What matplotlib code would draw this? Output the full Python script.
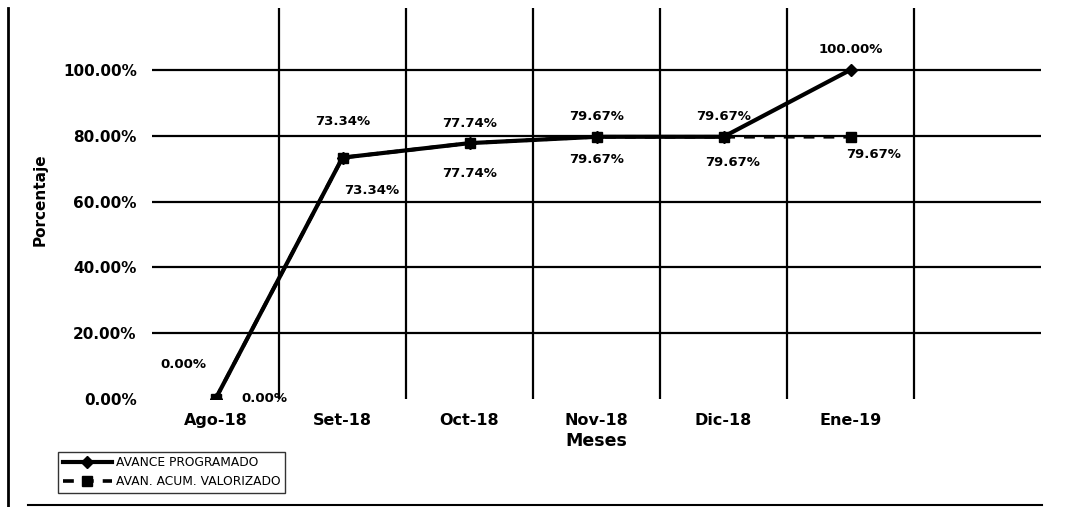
import matplotlib
matplotlib.use("Agg")
import matplotlib.pyplot as plt
from matplotlib.lines import Line2D

# ---- data ----
meses = ["Ago-18", "Set-18", "Oct-18", "Nov-18", "Dic-18", "Ene-19"]
avance_programado = [0.00, 73.34, 77.74, 79.67, 79.67, 100.00]
avance_valorizado = [0.00, 73.34, 77.74, 79.67, 79.67, 79.67]
y_ticks = [0, 20, 40, 60, 80, 100]
serie_nombres = ["AVANCE PROGRAMADO", "AVAN. ACUM. VALORIZADO"]

# label offsets (pixels) – layout only
off_prog = [(-32, 34), (0, 36), (0, 20), (0, 20), (0, 20), (0, 20)]
off_valor = [(49, 0), (29, -33), (0, -30), (0, -23), (9, -26), (23, -18)]

W, H = 1080, 507
fig = plt.figure(figsize=(W / 100, H / 100), dpi=100)
ax = fig.add_axes([152 / W, 1 - 399 / H, (1041 - 152) / W, (399 - 8) / H])

x = list(range(len(meses)))
ax.set_xlim(-0.5, 6.5)
ax.set_ylim(0, 118.8)

# grid
for yv in y_ticks[1:]:
    ax.axhline(yv, color="black", lw=1.6, zorder=1)
for k in range(len(meses)):
    ax.axvline(k + 0.5, color="black", lw=1.6, zorder=1)

ax.plot(x, avance_valorizado, color="black", lw=2.6, ls=(0, (3, 2.5)),
        marker="s", ms=7, zorder=3, label=serie_nombres[1])
ax.plot(x, avance_programado, color="black", lw=3.0, ls="-",
        marker="D", ms=6.5, zorder=4, label=serie_nombres[0])

lab_font = dict(fontsize=9.5, fontweight="bold", family="DejaVu Sans")
for xi, v, (dx, dy) in zip(x, avance_programado, off_prog):
    ax.annotate(f"{v:.2f}%", (xi, v), xytext=(dx, dy), textcoords="offset pixels",
                ha="center", va="center", zorder=5, **lab_font)
for xi, v, (dx, dy) in zip(x, avance_valorizado, off_valor):
    ax.annotate(f"{v:.2f}%", (xi, v), xytext=(dx, dy), textcoords="offset pixels",
                ha="center", va="center", zorder=5, **lab_font)

ax.set_xticks(x)
ax.set_xticklabels(meses, fontsize=11.5, fontweight="bold")
ax.set_yticks(y_ticks)
ax.set_yticklabels([f"{v:.2f}%" for v in y_ticks], fontsize=11, fontweight="bold")
ax.tick_params(axis="both", length=0)
ax.tick_params(axis="y", pad=11)
ax.tick_params(axis="x", pad=10)
for s in ax.spines.values():
    s.set_visible(False)

ax.set_xlabel("Meses", fontsize=12.5, fontweight="bold", labelpad=3)
ax.set_ylabel("Porcentaje", fontsize=11, fontweight="bold")
ax.yaxis.set_label_coords((48 - 152) / (1041 - 152), (399 - 200) / (399 - 8))

handles, labels = ax.get_legend_handles_labels()
leg = fig.legend(handles[::-1], labels[::-1], loc="lower left",
                 bbox_to_anchor=(52 / W, 1 - 499 / H), fontsize=8.8,
                 frameon=True, fancybox=False, edgecolor="black",
                 handlelength=4.0, borderpad=0.4, labelspacing=0.45,
                 handletextpad=0.3)
leg.get_frame().set_linewidth(1.0)

# scan frame lines
fig.add_artist(Line2D([8 / W, 8 / W], [0, 1 - 8 / H], color="black", lw=2,
                      transform=fig.transFigure))
fig.add_artist(Line2D([28 / W, 1042 / W], [1 - 505 / H, 1 - 505 / H], color="black",
                      lw=1.5, transform=fig.transFigure))

fig.savefig("out.png", dpi=100)
